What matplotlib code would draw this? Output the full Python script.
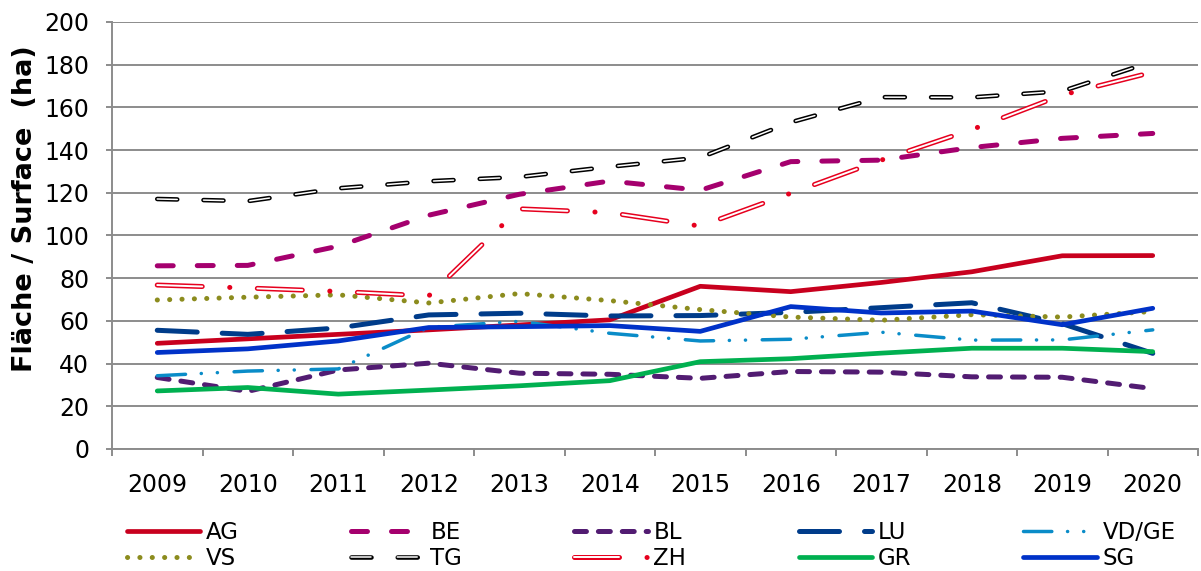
import numpy as np
import matplotlib.pyplot as plt
from matplotlib.legend_handler import HandlerTuple

plt.rcParams['font.family'] = 'DejaVu Sans'
# dash lengths below are in points, not multiples of the line width
plt.rcParams['lines.scale_dashes'] = False

## data (ha)
years = [2009, 2010, 2011, 2012, 2013, 2014, 2015, 2016, 2017, 2018, 2019, 2020]
AG = [49.5, 51.6, 53.7, 55.8, 58.1, 60.5, 76.2, 73.7, 78.0, 83.0, 90.5, 90.6]
BE = [85.8, 86.0, 95.0, 109.5, 119.3, 125.5, 121.2, 134.6, 135.3, 141.2, 145.5, 147.8]
BL = [33.5, 27.0, 37.0, 40.2, 35.5, 35.0, 33.1, 36.3, 36.0, 33.8, 33.6, 28.3]
LU = [55.6, 53.7, 56.7, 62.8, 63.6, 62.3, 62.5, 64.0, 66.2, 68.5, 58.7, 44.8]
VDGE = [34.3, 36.5, 37.5, 57.0, 59.8, 54.2, 50.6, 51.4, 54.7, 51.0, 51.1, 55.8]
VS = [69.8, 71.1, 72.2, 68.4, 72.8, 69.5, 65.3, 61.8, 60.3, 62.9, 61.8, 64.4]
TG = [117.1, 116.1, 122.1, 125.4, 127.4, 132.2, 136.5, 153.0, 164.8, 164.7, 167.6, 181.5]
ZH = [76.8, 75.4, 73.8, 71.7, 112.5, 110.7, 104.4, 119.8, 135.3, 149.6, 165.8, 176.5]
GR = [27.2, 28.8, 25.7, 27.6, 29.6, 32.0, 40.9, 42.3, 44.9, 47.2, 47.2, 45.6]
SG = [45.2, 46.9, 50.6, 56.9, 57.3, 57.8, 55.1, 66.7, 63.7, 64.6, 58.2, 65.9]

W, H = 1201, 571
fig = plt.figure(figsize=(W / 100, H / 100), dpi=100)
ax = fig.add_axes([112 / W, 1 - 449 / H, (1198 - 112) / W, (449 - 22) / H])

x = np.arange(len(years))
rnd = dict(dash_capstyle='round', solid_capstyle='round',
           dash_joinstyle='round', solid_joinstyle='round')


def line(vals, color, lw, ls='-'):
    l, = ax.plot(x, vals, color=color, lw=lw, linestyle=ls, **rnd)
    return l


def double_line(vals, color, lw_out, lw_in, dash_out, dash_in):
    # outlined dashes: wide coloured stroke with a thin white core on top
    l1, = ax.plot(x, vals, color=color, lw=lw_out, linestyle=(0, dash_out), **rnd)
    l2, = ax.plot(x, vals, color='white', lw=lw_in, linestyle=(0, dash_in), **rnd)
    return (l1, l2)


h_ag = line(AG, '#C8001E', 3.4)
h_be = line(BE, '#A5006E', 3.6, (0, (11.5, 17.3)))
h_bl = line(BL, '#521C72', 3.6, (0, (8.6, 8.6)))
h_lu = line(LU, '#003C8A', 3.6, (0, (28.8, 18.0)))
h_vd = line(VDGE, '#0A8CC8', 2.5, (0, (20.4, 11.3, 0.1, 11.5, 0.1, 12.0)))
h_vs = line(VS, '#8C8C1E', 3.6, (0, (0.1, 8.8)))
h_tg = double_line(TG, 'black', 3.3, 1.1, (14.4, 18.9), (14.4, 18.9))
h_zh = double_line(ZH, '#E6001E', 3.6, 1.4, (32.4, 19.8, 0.1, 19.8), (32.4, 39.7))
h_gr = line(GR, '#00B050', 3.4)
h_sg = line(SG, '#0032C8', 3.4)

grey = '#8C8C8C'
ax.set_ylim(0, 200)
ax.set_yticks(range(0, 201, 20))
ax.set_xlim(-0.5, len(years) - 0.5)
ax.set_xticks(np.arange(-0.5, len(years), 1))
ax.set_xticklabels([])
ax.set_xticks(x, minor=True)
ax.set_xticklabels([str(y) for y in years], minor=True)
ax.tick_params(axis='x', which='major', length=5, width=1.4, color=grey, direction='out')
ax.tick_params(axis='x', which='minor', length=0, pad=17, labelsize=17)
ax.tick_params(axis='y', length=4.5, width=1.4, color=grey, pad=12, labelsize=17)

ax.yaxis.grid(True, color=grey, lw=1.4)
ax.set_axisbelow(True)
for s in ['top', 'right']:
    ax.spines[s].set_visible(False)
for s in ['left', 'bottom']:
    ax.spines[s].set_color(grey)
    ax.spines[s].set_linewidth(1.4)

fig.text(25 / W, 1 - 209 / H, 'Fläche / Surface  (ha)', rotation=90,
         ha='center', va='center', fontsize=19.5, fontweight='bold')

# legend is filled column by column, so interleave the two rows
handles = [h_ag, h_vs, h_be, h_tg, h_bl, h_zh, h_lu, h_gr, h_vd, h_sg]
labels = ['AG', 'VS', 'BE', 'TG', 'BL', 'ZH', 'LU', 'GR', 'VD/GE', 'SG']
fig.legend(handles, labels, ncol=5, loc='upper left',
           bbox_to_anchor=(127 / W, 1 - 521 / H), frameon=False,
           fontsize=16.5, handlelength=3.2, handletextpad=0.25,
           columnspacing=4.9, labelspacing=0.12, borderpad=0, borderaxespad=0,
           handler_map={tuple: HandlerTuple(ndivide=1)})

fig.savefig('out.png', dpi=100)
